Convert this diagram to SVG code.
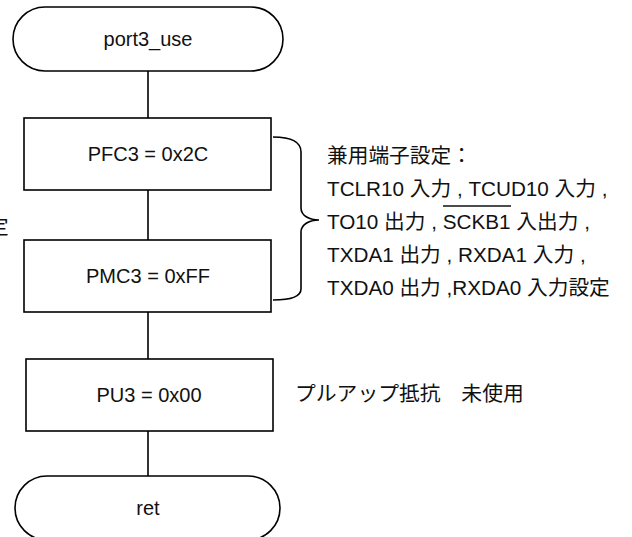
<svg xmlns="http://www.w3.org/2000/svg" width="632" height="537" viewBox="0 0 632 537">
<style>
.shape{fill:#fff;stroke:#000;stroke-width:1.6}
.conn{fill:none;stroke:#000;stroke-width:1.6}
.lbl{font-family:"Liberation Sans","Noto Sans CJK JP",sans-serif;font-size:20px;fill:#111;text-anchor:middle}
.note{font-family:"Liberation Sans","Noto Sans CJK JP",sans-serif;font-size:20.7px;fill:#111}
</style>
<rect width="632" height="537" fill="#fff"/>
<g id="connectors">
<line class="conn" x1="148" y1="71" x2="148" y2="118"/>
<line class="conn" x1="148" y1="190" x2="148" y2="240"/>
<line class="conn" x1="148" y1="312" x2="148" y2="359"/>
<line class="conn" x1="148" y1="431" x2="148" y2="476"/>
</g>
<g id="start">
<rect class="shape" x="13" y="7" width="270" height="64" rx="32" ry="32"/>
<text class="lbl" x="148" y="46">port3_use</text>
</g>
<g id="pfc3">
<rect class="shape" x="24" y="118" width="247" height="72"/>
<text class="lbl" x="148" y="161">PFC3 = 0x2C</text>
</g>
<g id="pmc3">
<rect class="shape" x="24" y="240" width="247" height="72"/>
<text class="lbl" x="148" y="283">PMC3 = 0xFF</text>
</g>
<g id="pu3">
<rect class="shape" x="26" y="359" width="247" height="72"/>
<text class="lbl" x="149" y="402">PU3 = 0x00</text>
</g>
<g id="ret">
<rect class="shape" x="15" y="476" width="265" height="64" rx="32" ry="32"/>
<text class="lbl" x="148" y="515">ret</text>
</g>
<g id="brace">
<path class="conn" d="M273,137 C291,137 301,141 301,152 L301,208 C301,216 310,220 319,220 C310,220 301,224 301,232 L301,289 C301,296 291,300 273,300"/>
</g>
<g id="note-pin">
<text class="note" x="327" y="163">兼用端子設定：</text>
<text class="note" x="327" y="196">TCLR10 入力 , TCUD10 入力 ,</text>
<text class="note" x="327" y="229">TO10 出力 , SCKB1 入出力 ,</text>
<line x1="443" y1="206" x2="511" y2="206" stroke="#111" stroke-width="1.3"/>
<text class="note" x="327" y="262">TXDA1 出力 , RXDA1 入力 ,</text>
<text class="note" x="327" y="295">TXDA0 出力 ,RXDA0 入力設定</text>
</g>
<g id="note-pu">
<text class="note" x="295" y="401" style="font-size:20.8px">プルアップ抵抗　未使用</text>
</g>
<g id="cut-text">
<text class="note" x="-12" y="234">定</text>
</g>
</svg>
